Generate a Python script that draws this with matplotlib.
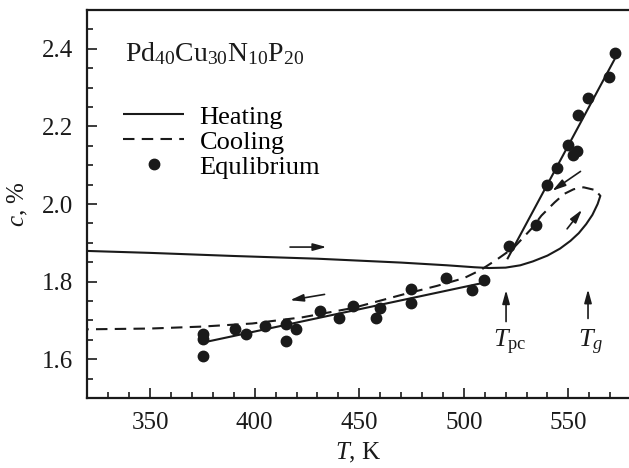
import matplotlib
matplotlib.use("Agg")
import matplotlib.pyplot as plt
from matplotlib.ticker import MultipleLocator

plt.rcParams['font.family'] = ['Liberation Serif', 'DejaVu Serif']
plt.rcParams['mathtext.fontset'] = 'custom'
plt.rcParams['mathtext.rm'] = 'Liberation Serif'
plt.rcParams['mathtext.it'] = 'Liberation Serif:italic'

INK = '#1a1a1a'

# Equilibrium points
eq_T = [375.3, 375.3, 375.3, 390.5, 395.6, 405.1, 414.9, 414.9, 419.8, 431.2,
        440.1, 447.1, 459.8, 458.2, 474.9, 474.9, 491.5, 503.9, 509.7, 521.6,
        534.4, 539.6, 544.6, 552.2, 554.2, 549.8, 554.5, 559.3, 569.3, 572.4]
eq_c = [1.665, 1.652, 1.607, 1.679, 1.664, 1.686, 1.690, 1.647, 1.679, 1.724,
        1.705, 1.737, 1.733, 1.705, 1.782, 1.746, 1.809, 1.779, 1.803, 1.892,
        1.946, 2.049, 2.092, 2.126, 2.137, 2.151, 2.229, 2.274, 2.327, 2.389]

# Equilibrium fit lines
fit_low_T = [375.3, 509.5]
fit_low_c = [1.643, 1.797]
fit_high_T = [521.0, 572.0]
fit_high_c = [1.860, 2.372]

# Heating curve
heat_T = [320, 350, 390, 430, 470, 492, 505, 512, 520, 527, 533, 540, 546,
          551, 555, 558.5, 561.5, 564.0, 565.3, 564.3]
heat_c = [1.879, 1.874, 1.866, 1.859, 1.849, 1.842, 1.837, 1.835, 1.836, 1.842,
          1.852, 1.867, 1.885, 1.905, 1.925, 1.948, 1.972, 2.000, 2.021, 2.027]

# Cooling curve
cool_T = [562.0, 557.3, 552.5, 548.0, 543.4, 537.1, 532.3, 524.0, 516.1, 508.1,
          500.1, 487.2, 471.1, 447.0, 422.9, 398.8, 374.7, 350.0, 320.0]
cool_c = [2.037, 2.043, 2.038, 2.026, 2.004, 1.970, 1.936, 1.888, 1.858, 1.830,
          1.809, 1.789, 1.767, 1.732, 1.708, 1.692, 1.684, 1.679, 1.677]

fig = plt.figure(figsize=(6.29, 4.68), dpi=100)
ax = fig.add_axes([0.139, 0.1496, 0.861, 0.829])

lw = 1.5
ax.plot(heat_T, heat_c, color=INK, lw=lw, label='Heating', solid_capstyle='butt')
ax.plot(cool_T, cool_c, color=INK, lw=lw, dashes=(5.5, 3.5), label='Cooling')
ax.plot(eq_T, eq_c, 'o', color=INK, ms=7.5, label='Equlibrium', linestyle='none')
ax.plot(fit_low_T, fit_low_c, color=INK, lw=lw)
ax.plot(fit_high_T, fit_high_c, color=INK, lw=lw)

arrow_kw = dict(arrowstyle='-|>,head_length=0.8,head_width=0.22', color=INK, lw=1.2,
                shrinkA=0, shrinkB=0)
ax.annotate('', xy=(434.3, 1.889), xytext=(416.9, 1.889), arrowprops=arrow_kw)
ax.annotate('', xy=(416.9, 1.752), xytext=(433.4, 1.767), arrowprops=arrow_kw)
ax.annotate('', xy=(542.3, 2.034), xytext=(555.8, 2.084), arrowprops=arrow_kw)
ax.annotate('', xy=(556.5, 1.985), xytext=(549.4, 1.936), arrowprops=arrow_kw)
ax.annotate('', xy=(520.2, 1.778), xytext=(520.2, 1.697), arrowprops=arrow_kw)
ax.annotate('', xy=(559.4, 1.780), xytext=(559.4, 1.705), arrowprops=arrow_kw)

ax.text(522, 1.642, r'$T_{\rm pc}$', fontsize=19, ha='center', va='center', color=INK)
ax.text(560.5, 1.642, r'$T_g$', fontsize=19, ha='center', va='center', color=INK)
ax.text(337.8, 2.368, r'Pd$_{40}$Cu$_{30}$N$_{10}$P$_{20}$', fontsize=20,
        ha='left', va='baseline', color=INK)

ax.set_xlim(320, 579)
ax.set_ylim(1.5, 2.5)
ax.xaxis.set_major_locator(MultipleLocator(50))
ax.xaxis.set_minor_locator(MultipleLocator(10))
ax.yaxis.set_major_locator(MultipleLocator(0.2))
ax.yaxis.set_minor_locator(MultipleLocator(0.05))
ax.yaxis.set_major_formatter(matplotlib.ticker.FormatStrFormatter('%.1f'))
ax.tick_params(which='both', direction='in', top=False, right=False, width=1.2,
               color=INK, labelcolor=INK, labelsize=18, pad=10)
ax.tick_params(which='major', length=7)
ax.tick_params(which='minor', length=4)
for s in ['left', 'bottom', 'top']:
    ax.spines[s].set_linewidth(1.6)
    ax.spines[s].set_color(INK)
ax.spines['right'].set_visible(False)

ax.set_xlabel(r'$T$, K', fontsize=18, color=INK, labelpad=5)
ax.set_ylabel(r'$c$, %', fontsize=18, color=INK, labelpad=9)

ax.legend(loc='upper left', bbox_to_anchor=(0.066, 0.755), frameon=False,
          fontsize=19, handlelength=2.3, handletextpad=0.6, labelspacing=0.06,
          borderpad=0, borderaxespad=0, numpoints=1)

fig.savefig('out.png', dpi=100)
